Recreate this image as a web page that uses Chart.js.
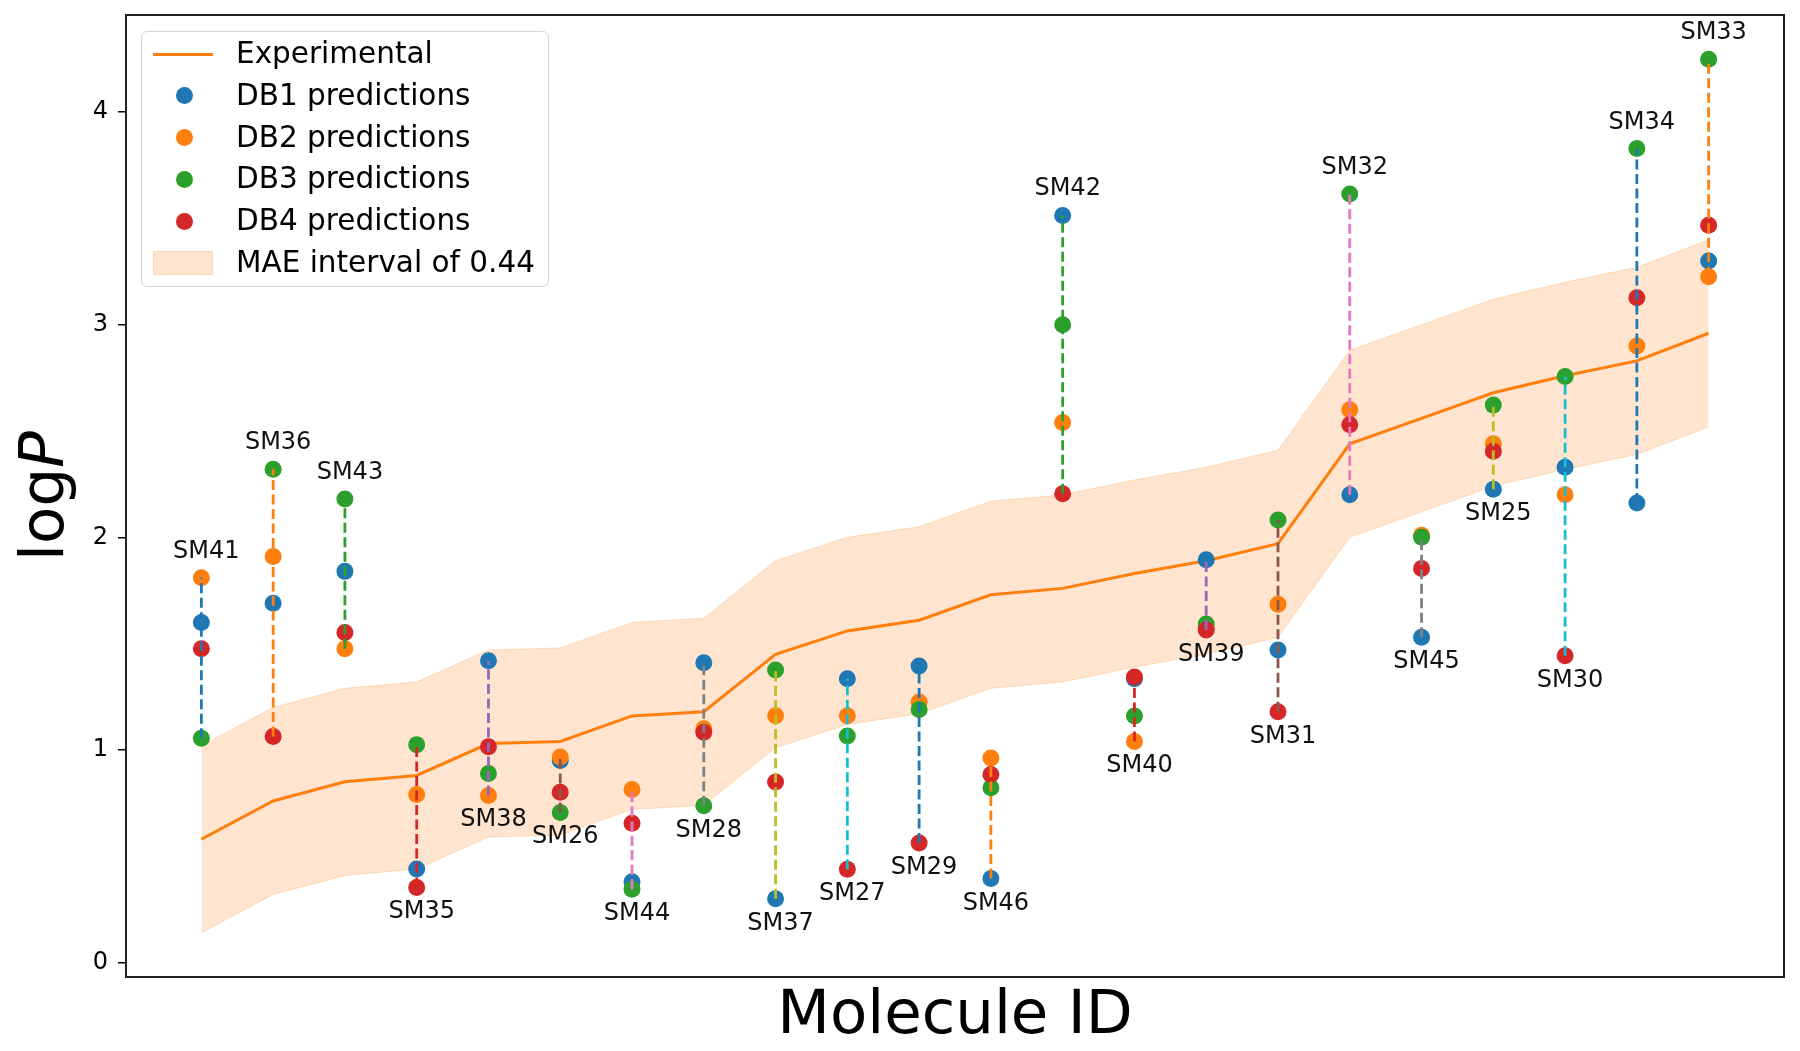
<!DOCTYPE html>
<html>
<head>
<meta charset="utf-8">
<script src="https://cdn.jsdelivr.net/npm/chart.js@4.4.1/dist/chart.umd.min.js"></script>
<style>
  html, body { margin: 0; padding: 0; background: #fff; overflow: hidden; }
  #wrap { position: relative; width: 1800px; height: 1051px; }
  #legend {
    position: absolute; left: 141px; top: 31px; width: 406px; height: 254px;
    border: 1.5px solid #d4d4d4; border-radius: 6px; background: rgba(255,255,255,0.8);
    font-family: "DejaVu Sans", sans-serif; font-size: 29.5px; color: #000;
  }
  .row { position: absolute; left: 0; height: 42px; width: 100%; }
  .row .txt { position: absolute; left: 94px; top: 50%; transform: translateY(-50%); white-space: nowrap; line-height: 1; }
  .row .handle { position: absolute; top: 50%; }
</style>
</head>
<body>
<div id="wrap">
  <canvas id="logpChart"></canvas>
  <div id="legend"></div>
</div>
<script>
const molecules = ['SM41', 'SM36', 'SM43', 'SM35', 'SM38', 'SM26', 'SM44', 'SM28', 'SM37', 'SM27', 'SM29',
  'SM46', 'SM42', 'SM40', 'SM39', 'SM31', 'SM32', 'SM45', 'SM25', 'SM30', 'SM34', 'SM33'];

const experimental = [0.58, 0.76, 0.85, 0.88, 1.03, 1.04, 1.16, 1.18, 1.45, 1.56, 1.61,
  1.73, 1.76, 1.83, 1.89, 1.97, 2.44, 2.56, 2.68, 2.76, 2.83, 2.96];

const db1 = [1.60, 1.69, 1.84, 0.44, 1.42, 0.95, 0.38, 1.41, 0.30, 1.335, 1.395,
  0.395, 3.514, 1.335, 1.895, 1.47, 2.20, 1.53, 2.226, 2.33, 2.162, 3.30];
const db2 = [1.81, 1.91, 1.476, 0.79, 0.786, 0.967, 0.814, 1.10, 1.161, 1.161, 1.225,
  0.962, 2.54, 1.04, 1.575, 1.685, 2.60, 2.01, 2.44, 2.20, 2.90, 3.226];
const db3 = [1.055, 2.32, 2.18, 1.025, 0.889, 0.706, 0.345, 0.738, 1.376, 1.066, 1.19,
  0.822, 3.00, 1.16, 1.592, 2.082, 3.615, 2.00, 2.622, 2.757, 3.829, 4.249];
const db4 = [1.476, 1.063, 1.552, 0.353, 1.015, 0.801, 0.655, 1.083, 0.849, 0.439, 0.562,
  0.885, 2.205, 1.343, 1.564, 1.18, 2.53, 1.854, 2.405, 1.443, 3.127, 3.468];

const maeInterval = 0.44;

// where each molecule's name sits: above the highest or below the lowest prediction
const labelSide = ['top', 'top', 'top', 'bottom', 'bottom', 'bottom', 'bottom', 'bottom', 'bottom', 'bottom', 'bottom',
  'bottom', 'top', 'bottom', 'bottom', 'bottom', 'top', 'bottom', 'bottom', 'bottom', 'top', 'top'];

const yTicks = [0, 1, 2, 3, 4];

const seriesNames = ['DB1 predictions', 'DB2 predictions', 'DB3 predictions', 'DB4 predictions'];
const TAB10 = ['#1f77b4', '#ff7f0e', '#2ca02c', '#d62728', '#9467bd', '#8c564b', '#e377c2', '#7f7f7f', '#bcbd22', '#17becf'];
const FONT = '"DejaVu Sans", sans-serif';

const predictions = [db1, db2, db3, db4];
const xy = (arr) => arr.map((v, i) => ({ x: i, y: v }));

function buildDatasets() {
  const sets = [];
  sets.push({
    type: 'line', label: 'lower', data: xy(experimental.map((v) => v - maeInterval)),
    borderColor: 'rgba(255,127,14,0.22)', borderWidth: 1, pointRadius: 0, fill: false, order: 100,
  });
  sets.push({
    type: 'line', label: 'MAE interval of ' + maeInterval, data: xy(experimental.map((v) => v + maeInterval)),
    borderColor: 'rgba(255,127,14,0.22)', borderWidth: 1, pointRadius: 0,
    fill: '-1', backgroundColor: 'rgba(255,127,14,0.2)', order: 99,
  });
  sets.push({
    type: 'line', label: 'Experimental', data: xy(experimental),
    borderColor: TAB10[1], borderWidth: 3, pointRadius: 0, fill: false, order: 90,
  });
  predictions.forEach((arr, k) => {
    sets.push({
      type: 'scatter', label: seriesNames[k], data: xy(arr),
      backgroundColor: TAB10[k], borderWidth: 0, pointRadius: 8.5, order: 50 - k,
    });
  });
  molecules.forEach((name, i) => {
    const vals = predictions.map((arr) => arr[i]);
    sets.push({
      type: 'line', label: name,
      data: [{ x: i, y: Math.min(...vals) }, { x: i, y: Math.max(...vals) }],
      borderColor: TAB10[i % 10], borderWidth: 2.8, borderDash: [10, 4.5],
      pointRadius: 0, fill: false, order: 10,
    });
  });
  return sets;
}

const overlayPlugin = {
  id: 'overlay',
  afterDatasetsDraw(chart) {
    const { ctx, chartArea, scales: { x, y } } = chart;
    ctx.save();
    ctx.font = `24px ${FONT}`;
    ctx.fillStyle = '#111';
    ctx.textAlign = 'center';
    ctx.textBaseline = 'alphabetic';
    molecules.forEach((name, i) => {
      const vals = predictions.map((arr) => arr[i]);
      const px = x.getPixelForValue(i) + 5;
      if (labelSide[i] === 'top') {
        ctx.fillText(name, px, y.getPixelForValue(Math.max(...vals)) - 20);
      } else {
        ctx.fillText(name, px, y.getPixelForValue(Math.min(...vals)) + 31);
      }
    });
    ctx.strokeStyle = '#222';
    ctx.lineWidth = 2;
    ctx.strokeRect(chartArea.left, chartArea.top, chartArea.width, chartArea.height);

    // axis titles
    ctx.fillStyle = '#000';
    ctx.font = `61px ${FONT}`;
    ctx.textAlign = 'center';
    ctx.fillText('Molecule ID', (chartArea.left + chartArea.right) / 2, 1033);

    ctx.translate(63, (chartArea.top + chartArea.bottom) / 2);
    ctx.rotate(-Math.PI / 2);
    ctx.textAlign = 'left';
    ctx.font = `61px ${FONT}`;
    const w1 = ctx.measureText('log').width;
    ctx.font = `italic 61px ${FONT}`;
    const w2 = ctx.measureText('P').width;
    const start = -(w1 + w2) / 2;
    ctx.font = `61px ${FONT}`;
    ctx.fillText('log', start, 0);
    ctx.font = `italic 61px ${FONT}`;
    ctx.fillText('P', start + w1, 0);
    ctx.restore();
  },
};

function buildLegend() {
  const legend = document.getElementById('legend');
  const items = [
    { text: 'Experimental', kind: 'line', color: TAB10[1] },
    ...seriesNames.map((s, k) => ({ text: s, kind: 'dot', color: TAB10[k] })),
    { text: 'MAE interval of ' + maeInterval, kind: 'patch', color: 'rgba(255,127,14,0.2)' },
  ];
  items.forEach((item, k) => {
    const row = document.createElement('div');
    row.className = 'row';
    row.style.top = (1 + k * 41.8) + 'px';
    const h = document.createElement('div');
    h.className = 'handle';
    if (item.kind === 'line') {
      Object.assign(h.style, { left: '11px', width: '60px', height: '3px', marginTop: '-1.5px', background: item.color });
    } else if (item.kind === 'dot') {
      Object.assign(h.style, { left: '34px', width: '17px', height: '17px', marginTop: '-8.5px', borderRadius: '50%', background: item.color });
    } else {
      Object.assign(h.style, { left: '11px', width: '60px', height: '24px', marginTop: '-12px', background: item.color,
        boxSizing: 'border-box', border: '1px solid rgba(255,127,14,0.15)' });
    }
    const t = document.createElement('div');
    t.className = 'txt';
    t.textContent = item.text;
    row.appendChild(h);
    row.appendChild(t);
    legend.appendChild(row);
  });
}

function renderChart() {
  const canvas = document.getElementById('logpChart');
  canvas.width = 1800;
  canvas.height = 1051;
  return new Chart(canvas, {
    type: 'scatter',
    data: { datasets: buildDatasets() },
    options: {
      responsive: false,
      animation: false,
      devicePixelRatio: 1,
      events: [],
      layout: { padding: { top: 15, right: 16, bottom: 74, left: 0 } },
      plugins: {
        legend: { display: false },
        tooltip: { enabled: false },
      },
      scales: {
        x: {
          type: 'linear', display: false, min: -1.05, max: molecules.length - 1 + 1.05,
        },
        y: {
          type: 'linear', min: -0.068, max: 4.457,
          afterFit(scale) {
            scale.width = 126;
            scale.paddingTop = 0;
            scale.paddingBottom = 0;
          },
          afterBuildTicks(scale) { scale.ticks = yTicks.map((v) => ({ value: v })); },
          ticks: {
            font: { family: FONT, size: 24 }, color: '#000', padding: 10,
            callback: (v) => String(v),
          },
          grid: { display: true, drawOnChartArea: false, drawTicks: true, tickLength: 8, color: '#000', lineWidth: 1.5 },
          border: { display: false },
        },
      },
    },
    plugins: [overlayPlugin],
  });
}

buildLegend();
renderChart();
</script>
</body>
</html>
